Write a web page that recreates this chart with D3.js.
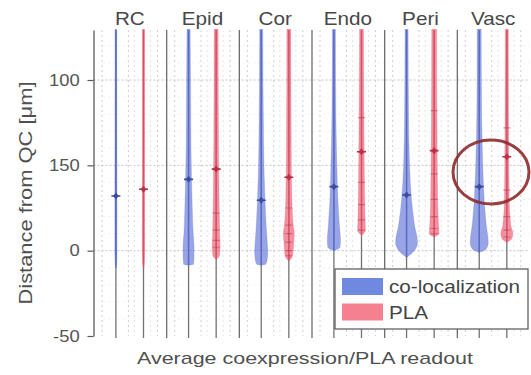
<!DOCTYPE html>
<html>
<head>
<meta charset="utf-8">
<script src="https://cdn.jsdelivr.net/npm/d3@7"></script>
<style>
  body { margin: 0; background: #fff; }
  svg { display: block; font-family: "Liberation Sans", Arial, Helvetica, sans-serif; }
</style>
</head>
<body>
<svg id="chart" width="531" height="375"></svg>
<script>
// ---- data -------------------------------------------------------------
const categories = ["RC", "Epid", "Cor", "Endo", "Peri", "Vasc"];
const seriesNames = ["co-localization", "PLA"];
const yTickValues = [100, 50, 0, -50];
const yTickLabels = ["100", "150", "0", "-50"];

// violin outlines per tissue: [distance from QC (µm), relative density]
const colocProfiles = [
  [[131, 0.08], [60, 0.09], [20, 0.1], [0, 0.1], [-8, 0.06], [-10, 0]],
  [[131, 0.14], [100, 0.18], [60, 0.22], [40, 0.28], [20, 0.36], [10, 0.42], [3, 0.5], [-3, 0.5], [-8, 0.45], [-8.5, 0]],
  [[131, 0.14], [60, 0.22], [30, 0.34], [15, 0.45], [5, 0.55], [0, 0.6], [-5, 0.55], [-8, 0.4], [-8.5, 0]],
  [[131, 0.14], [80, 0.18], [50, 0.27], [30, 0.36], [15, 0.5], [6, 0.6], [2, 0.55], [0, 0]],
  [[131, 0.14], [80, 0.18], [50, 0.27], [30, 0.45], [15, 0.72], [5, 1.0], [0, 0.7], [-4, 0]],
  [[131, 0.18], [80, 0.22], [50, 0.32], [30, 0.45], [15, 0.64], [5, 0.82], [1, 0.64], [-1, 0]]
];
const plaProfiles = [
  [[131, 0.1], [60, 0.1], [20, 0.11], [0, 0.11], [-8, 0.07], [-10, 0]],
  [[131, 0.18], [60, 0.22], [30, 0.27], [10, 0.32], [2, 0.36], [-3, 0.3], [-5, 0]],
  [[131, 0.18], [60, 0.22], [30, 0.28], [15, 0.4], [10, 0.5], [5, 0.45], [0, 0.4], [-4, 0.28], [-6, 0]],
  [[131, 0.18], [80, 0.22], [40, 0.27], [20, 0.32], [12, 0.36], [9, 0]],
  [[131, 0.22], [60, 0.27], [30, 0.32], [15, 0.4], [10, 0.45], [8, 0]],
  [[131, 0.14], [60, 0.18], [30, 0.22], [15, 0.36], [10, 0.55], [7, 0.45], [5, 0]]
];
const colocMedians = [32, 41.8, 29.5, 37.5, 32.6, 37.5];
const plaMedians = [36, 47.8, 43, 58, 58.6, 55];
// individual PLA readouts drawn as short dashes
const plaPoints = [
  [],
  [22, 12, 6, 2],
  [25, 15, 10, 5, 0, -3],
  [78, 40, 27, 18, 12],
  [82, 45, 30, 20, 13, 10],
  [72, 35.5, 20, 12, 8]
];

// ---- layout -------------------------------------------------------------
const svg = d3.select("#chart");
const plotLeft = 93.5, plotRight = 529.5, plotTop = 30, plotBottom = 336;
const stretch = 1.15; // horizontal text widening

const y = d3.scaleLinear().domain([-50, 129.3]).range([plotBottom, plotTop]);
const xGroup = d3.scaleBand().domain(categories).range([plotLeft, plotRight]).paddingInner(0).paddingOuter(0);
const xSeries = d3.scalePoint().domain(seriesNames).range([22.4, 50]);
const halfWidth = d3.scaleLinear().domain([0, 1]).range([0, 11]);
const gridFrac = d3.scaleLinear().domain([0, 1]).range([0, xGroup.bandwidth()]);

const colors = {
  "co-localization": { fill: "#6679da", line: "#5364c4", mark: "#3d4c9c", swatch: "#6f88e0" },
  "PLA": { fill: "#ee5d74", line: "#dc4a62", mark: "#bb3046", swatch: "#f5808f" }
};

// clip to plotting area
svg.append("defs").append("clipPath").attr("id", "plotClip")
  .append("rect").attr("x", plotLeft).attr("y", plotTop - 1)
  .attr("width", plotRight - plotLeft + 2).attr("height", plotBottom - plotTop + 4);

const plot = svg.append("g").attr("clip-path", "url(#plotClip)");

// minor horizontal grid
plot.append("g").selectAll("line")
  .data(d3.range(-40, 130, 10).filter(v => v % 50 !== 0))
  .join("line")
  .attr("x1", plotLeft).attr("x2", plotRight)
  .attr("y1", d => y(d)).attr("y2", d => y(d))
  .attr("stroke", "#e6e6e6").attr("stroke-width", 1).attr("stroke-dasharray", "1,4");

// major horizontal grid
plot.append("g").selectAll("line")
  .data([100, 50, 0])
  .join("line")
  .attr("x1", plotLeft).attr("x2", plotRight)
  .attr("y1", d => y(d)).attr("y2", d => y(d))
  .attr("stroke", "#c4c4c4").attr("stroke-width", 1).attr("stroke-dasharray", "2,2");

// faint vertical grid within each tissue panel
const vgrid = [];
categories.forEach(c => {
  [0.117, 0.48, 0.565, 0.785, 0.88].forEach((f, k) => vgrid.push({ c, f, strong: k === 0 || k === 1 || k === 4 }));
});
plot.append("g").selectAll("line")
  .data(vgrid)
  .join("line")
  .attr("x1", d => xGroup(d.c) + gridFrac(d.f)).attr("x2", d => xGroup(d.c) + gridFrac(d.f))
  .attr("y1", plotTop).attr("y2", plotBottom)
  .attr("stroke", d => d.strong ? "#cfcfcf" : "#e4e4e4").attr("stroke-width", 1).attr("stroke-dasharray", "2,3");

// panel separators
plot.append("g").selectAll("line")
  .data(categories.slice(1))
  .join("line")
  .attr("x1", d => xGroup(d) + 0.5).attr("x2", d => xGroup(d) + 0.5)
  .attr("y1", plotTop).attr("y2", plotBottom + 2)
  .attr("stroke", "#6c6c6c").attr("stroke-width", 1.3);

// violin baselines (full height)
const violins = [];
categories.forEach((c, i) => {
  violins.push({ c, s: "co-localization", profile: colocProfiles[i], median: colocMedians[i], points: [] });
  violins.push({ c, s: "PLA", profile: plaProfiles[i], median: plaMedians[i], points: plaPoints[i] });
});
const cx = d => xGroup(d.c) + xSeries(d.s);

plot.append("g").selectAll("line")
  .data(violins)
  .join("line")
  .attr("x1", cx).attr("x2", cx)
  .attr("y1", plotTop).attr("y2", plotBottom + 2)
  .attr("stroke", "#737373").attr("stroke-width", 1.3);

// violin bodies
const area = d3.area()
  .curve(d3.curveMonotoneY)
  .y(p => y(p[0]));

const vg = plot.append("g").selectAll("g")
  .data(violins)
  .join("g");

vg.append("path")
  .attr("d", d => {
    const x0 = cx(d);
    const pts = d.profile.slice().sort((a, b) => a[0] - b[0]);
    return area.x0(p => x0 - halfWidth(p[1])).x1(p => x0 + halfWidth(p[1]))(pts);
  })
  .attr("fill", d => colors[d.s].fill)
  .attr("fill-opacity", 0.68)
  .attr("stroke", d => colors[d.s].fill)
  .attr("stroke-opacity", 0.3)
  .attr("stroke-width", 0.8);

// coloured centre line across the violin extent
vg.append("line")
  .attr("x1", cx).attr("x2", cx)
  .attr("y1", plotTop)
  .attr("y2", d => y(d3.min(d.profile, p => p[0])))
  .attr("stroke", d => colors[d.s].line)
  .attr("stroke-width", 1.3)
  .attr("stroke-opacity", 0.75);

// individual readouts
vg.selectAll("line.pt")
  .data(d => d.points.map(v => ({ v, d })))
  .join("line")
  .attr("class", "pt")
  .attr("x1", p => cx(p.d) - 3.5).attr("x2", p => cx(p.d) + 3.5)
  .attr("y1", p => y(p.v)).attr("y2", p => y(p.v))
  .attr("stroke", p => colors[p.d.s].mark)
  .attr("stroke-opacity", 0.5)
  .attr("stroke-width", 1.2);

// median markers
vg.append("line")
  .attr("x1", d => cx(d) - 4.5).attr("x2", d => cx(d) + 4.5)
  .attr("y1", d => y(d.median)).attr("y2", d => y(d.median))
  .attr("stroke", d => colors[d.s].mark)
  .attr("stroke-width", 1.6);
vg.append("path")
  .attr("d", d3.symbol().type(d3.symbolDiamond).size(20))
  .attr("transform", d => `translate(${cx(d)},${y(d.median)}) scale(1.2,0.85)`)
  .attr("fill", d => colors[d.s].mark);

// ---- y axis ---------------------------------------------------------------
const yAxis = d3.axisLeft(y)
  .tickValues(yTickValues)
  .tickFormat((d, i) => yTickLabels[i])
  .tickSize(6)
  .tickSizeOuter(0)
  .tickPadding(6);

const ag = svg.append("g")
  .attr("transform", `translate(${plotLeft},0)`)
  .call(yAxis);
ag.select(".domain").attr("stroke", "#5a5a5a").attr("stroke-width", 1.3);
ag.selectAll(".tick line").attr("stroke", "#5a5a5a").attr("stroke-width", 1.2);
ag.selectAll(".tick text")
  .attr("font-size", 16)
  .attr("fill", "#555")
  .attr("font-family", "Liberation Sans, Arial, sans-serif")
  .attr("transform", `scale(${stretch},1)`);

// ---- tissue labels ----------------------------------------------------------
svg.append("g").selectAll("text")
  .data(categories)
  .join("text")
  .attr("transform", d => `translate(${xGroup(d) + xGroup.bandwidth() / 2},25) scale(${stretch},1)`)
  .attr("text-anchor", "middle")
  .attr("font-size", 18)
  .attr("fill", "#484848")
  .text(d => d);

// ---- axis titles ------------------------------------------------------------
svg.append("text")
  .attr("transform", "translate(32,193) rotate(-90)")
  .attr("text-anchor", "middle")
  .attr("font-size", 18)
  .attr("fill", "#505050")
  .attr("textLength", 223)
  .attr("lengthAdjust", "spacingAndGlyphs")
  .text("Distance from QC [μm]");

svg.append("text")
  .attr("x", 305)
  .attr("y", 364)
  .attr("text-anchor", "middle")
  .attr("font-size", 17)
  .attr("fill", "#505050")
  .attr("textLength", 336)
  .attr("lengthAdjust", "spacingAndGlyphs")
  .text("Average coexpression/PLA readout");

// ---- highlight ring ---------------------------------------------------------
svg.append("ellipse")
  .attr("cx", 491).attr("cy", 172).attr("rx", 38).attr("ry", 32)
  .attr("fill", "none")
  .attr("stroke", "#8e2a2a")
  .attr("stroke-width", 3)
  .attr("stroke-opacity", 0.9);

// ---- legend -----------------------------------------------------------------
const legend = svg.append("g").attr("transform", "translate(335,269)");
legend.append("rect")
  .attr("x", 0).attr("y", 0).attr("width", 193).attr("height", 60)
  .attr("fill", "#fff").attr("stroke", "#555").attr("stroke-width", 1.2);
const li = legend.selectAll("g.item")
  .data(seriesNames)
  .join("g")
  .attr("class", "item")
  .attr("transform", (d, i) => `translate(7,${9 + i * 25.5})`);
li.append("rect")
  .attr("width", 41).attr("height", 17)
  .attr("fill", d => colors[d].swatch);
li.append("text")
  .attr("transform", `translate(47,15) scale(${stretch},1)`)
  .attr("font-size", 18)
  .attr("fill", "#444")
  .text(d => d);
</script>
</body>
</html>
